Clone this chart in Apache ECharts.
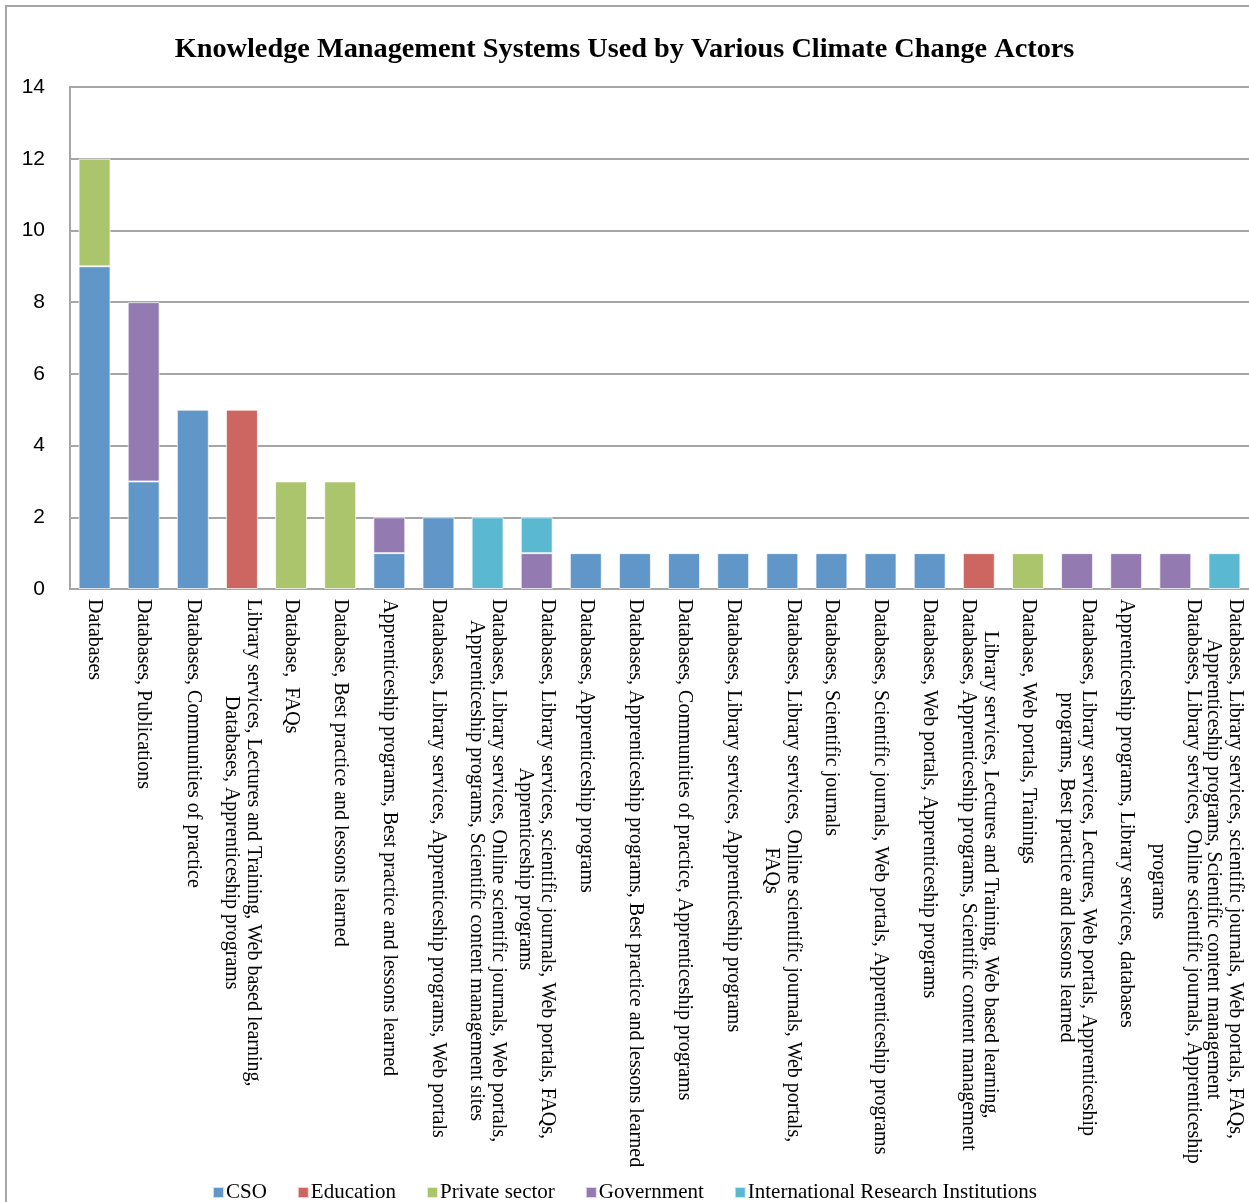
<!DOCTYPE html>
<html>
<head>
<meta charset="utf-8">
<script src="https://cdn.jsdelivr.net/npm/echarts@6/dist/echarts.min.js"></script>
<style>
html,body{margin:0;padding:0;background:#fff;}
#chart{width:1249px;height:1202px;}
</style>
</head>
<body>
<div id="chart"></div>
<script>
const titleText = 'Knowledge Management Systems Used by Various Climate Change Actors';

const categories = [
  'Databases',
  'Databases, Publications',
  'Databases, Communities of practice',
  'Library services, Lectures and Training, Web based learning,\nDatabases, Apprenticeship programs',
  'Database,  FAQs',
  'Database, Best practice and lessons learned',
  'Apprenticeship programs, Best practice and lessons learned',
  'Databases, Library services, Apprenticeship programs, Web portals',
  'Databases, Library services, Online scientific journals, Web portals,\nApprenticeship programs, Scientific content management sites',
  'Databases, Library services, scientific journals, Web portals, FAQs,\nApprenticeship programs',
  'Databases, Apprenticeship programs',
  'Databases, Apprenticeship programs, Best practice and lessons learned',
  'Databases, Communities of practice, Apprenticeship programs',
  'Databases, Library services, Apprenticeship programs',
  'Databases, Library services, Online scientific journals, Web portals,\nFAQs',
  'Databases, Scientific journals',
  'Databases, Scientific journals, Web portals, Apprenticeship programs',
  'Databases, Web portals, Apprenticeship programs',
  'Library services, Lectures and Training, Web based learning,\nDatabases, Apprenticeship programs, Scientific content management',
  'Database, Web portals, Trainings',
  'Databases, Library services, Lectures, Web portals, Apprenticeship\nprograms, Best practice and lessons learned',
  'Apprenticeship programs, Library services, databases',
  'Databases, Library services, Online scientific journals, Apprenticeship\n\nprograms',
  'Databases, Library services, scientific journals, Web portals, FAQs,\nApprenticeship programs, Scientific content management'
];

const seriesNames = ['CSO', 'Education', 'Private sector', 'Government', 'International Research Institutions'];

const csoValues        = [9, 3, 5, 0, 0, 0, 1, 2, 0, 0, 1, 1, 1, 1, 1, 1, 1, 1, 0, 0, 0, 0, 0, 0];
const educationValues  = [0, 0, 0, 5, 0, 0, 0, 0, 0, 0, 0, 0, 0, 0, 0, 0, 0, 0, 1, 0, 0, 0, 0, 0];
const privateValues    = [3, 0, 0, 0, 3, 3, 0, 0, 0, 0, 0, 0, 0, 0, 0, 0, 0, 0, 0, 1, 0, 0, 0, 0];
const governmentValues = [0, 5, 0, 0, 0, 0, 1, 0, 0, 1, 0, 0, 0, 0, 0, 0, 0, 0, 0, 0, 1, 1, 1, 0];
const iriValues        = [0, 0, 0, 0, 0, 0, 0, 0, 2, 1, 0, 0, 0, 0, 0, 0, 0, 0, 0, 0, 0, 0, 0, 1];

const yTicks = [0, 2, 4, 6, 8, 10, 12, 14];

const seriesValues = [csoValues, educationValues, privateValues, governmentValues, iriValues];
const colors = ['#6096C8', '#CD6661', '#ABC56D', '#937AB1', '#5BB8D1'];

const chart = echarts.init(document.getElementById('chart'), null, {renderer: 'canvas'});

const serif = '"Liberation Serif", "Times New Roman", serif';

const option = {
  backgroundColor: '#ffffff',
  animation: false,
  graphic: [{
    type: 'rect',
    shape: {x: 6, y: 6, width: 1400, height: 1400},
    style: {fill: 'none', stroke: '#a6a6a6', lineWidth: 2},
    z: -1
  }],
  title: {
    text: titleText,
    left: 'center',
    top: 31,
    textStyle: {fontFamily: serif, fontWeight: 'bold', fontSize: 28.3, color: '#000'}
  },
  legend: {
    data: seriesNames,
    top: 1177,
    left: 'center',
    itemWidth: 11,
    itemHeight: 11,
    itemGap: 30,
    icon: 'rect',
    textStyle: {fontFamily: serif, fontSize: 21, color: '#000', padding: [0, 0, 0, -3]}
  },
  grid: {left: 70, top: 87, width: 1181, height: 502, containLabel: false},
  xAxis: {
    type: 'category',
    data: categories,
    axisTick: {show: false},
    axisLine: {lineStyle: {color: '#a6a6a6', width: 2}},
    axisLabel: {
      interval: 0,
      rotate: -90,
      margin: 10,
      color: '#000',
      formatter: function (v) {
        return v.split('\n').map(function (l) {
          return l === '' ? '{g| }' : '{c|' + l + '}';
        }).join('\n');
      },
      rich: {
        c: {align: 'center', fontFamily: serif, fontSize: 20, lineHeight: 22, color: '#000'},
        g: {align: 'center', fontFamily: serif, fontSize: 8, lineHeight: 13, color: '#000'}
      }
    }
  },
  yAxis: {
    type: 'value',
    min: 0,
    max: 14,
    interval: 2,
    axisLine: {show: true, lineStyle: {color: '#a6a6a6', width: 2}},
    axisTick: {show: false},
    splitLine: {lineStyle: {color: '#a6a6a6', width: 2}},
    axisLabel: {
      margin: 25,
      fontFamily: '"Liberation Sans", Arial, sans-serif',
      fontSize: 21,
      color: '#000',
      formatter: function (v) { return yTicks.indexOf(v) >= 0 ? String(v) : ''; }
    }
  },
  series: seriesNames.map(function (name, i) {
    return {
      name: name,
      type: 'bar',
      stack: 'total',
      barWidth: '65%',
      itemStyle: {color: colors[i], borderColor: 'rgba(255,255,255,0.7)', borderWidth: 1},
      data: seriesValues[i].map(function (v) { return v === 0 ? '-' : v; })
    };
  })
};

chart.setOption(option);
</script>
</body>
</html>
